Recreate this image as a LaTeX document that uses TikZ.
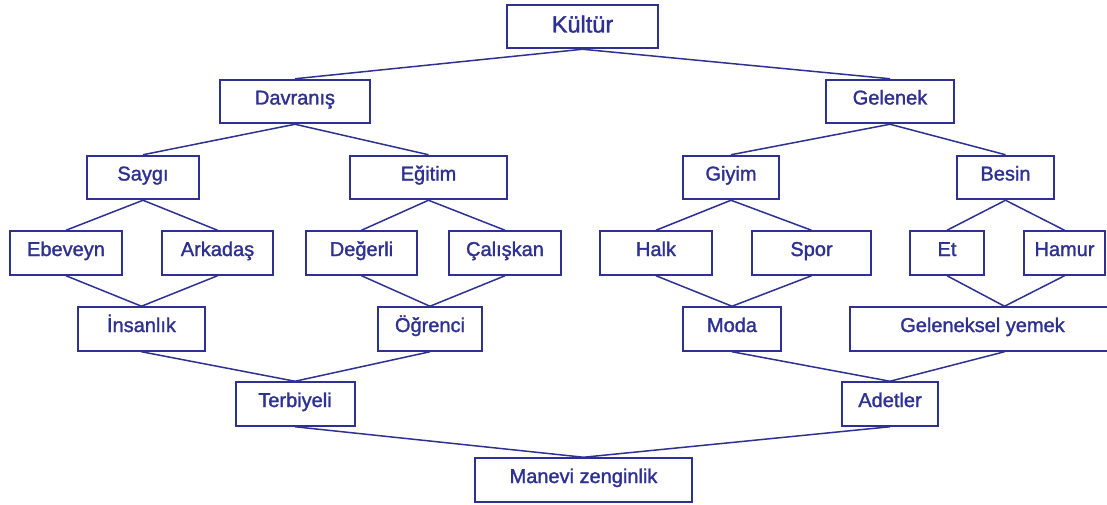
\documentclass[tikz,border=0pt]{standalone}
\usepackage{fontspec}
\setmainfont{Liberation Sans}
\newfontfamily\heavyfont{Liberation Sans}[FakeBold=1.5]
\usetikzlibrary{calc}
\definecolor{navy}{HTML}{2E3192}
\tikzset{
  bx/.style={draw=navy, line width=2pt, rectangle, inner sep=0pt,
    minimum height=43.5pt, text=navy, font=\heavyfont\fontsize{20pt}{22pt}\selectfont,
    text height=14pt, text depth=8pt},
  big/.style={font=\heavyfont\fontsize{23.5pt}{26pt}\selectfont, text height=17pt, text depth=5pt},
  ln/.style={draw=navy, line width=1.5pt},
}
\begin{document}
\begin{tikzpicture}[x=1pt,y=-1pt]
\clip (0,0) rectangle (1107,505);
\fill[white] (0,0) rectangle (1107,505);
% row 0
\node[bx,big,minimum width=151pt] (ku) at (582.5,26.5) {Kültür};
% row 1
\node[bx,minimum width=150pt] (da) at (295,101.5) {Davranış};
\node[bx,minimum width=127.5pt] (ge) at (890,101.5) {Gelenek};
% row 2
\node[bx,minimum width=112pt] (sa) at (143,177.5) {Saygı};
\node[bx,minimum width=157pt] (eg) at (428.5,177.5) {Eğitim};
\node[bx,minimum width=96pt] (gi) at (731,177.5) {Giyim};
\node[bx,minimum width=97pt] (be) at (1005.5,177.5) {Besin};
% row 3
\node[bx,minimum width=112pt] (eb) at (66,253) {Ebeveyn};
\node[bx,minimum width=111pt] (ar) at (217.5,253) {Arkadaş};
\node[bx,minimum width=111pt] (de) at (361.5,253) {Değerli};
\node[bx,minimum width=112pt] (ca) at (505,253) {Çalışkan};
\node[bx,minimum width=112pt] (ha) at (656,253) {Halk};
\node[bx,minimum width=119pt] (sp) at (811.5,253) {Spor};
\node[bx,minimum width=74pt] (et) at (947,253) {Et};
\node[bx,minimum width=81pt] (hm) at (1064.5,253) {Hamur};
% row 4
\node[bx,minimum width=127pt] (in) at (141.5,329) {İnsanlık};
\node[bx,minimum width=104pt] (og) at (430,329) {Öğrenci};
\node[bx,minimum width=98pt] (mo) at (732,329) {Moda};
\node[bx,minimum width=265pt] (gy) at (982.5,329) {Geleneksel yemek};
\coordinate (gyt) at ($(gy.north)+(22,0)$);
\coordinate (gyb) at ($(gy.south)+(22,0)$);
% row 5
\node[bx,minimum width=119pt] (te) at (295,404) {Terbiyeli};
\node[bx,minimum width=96.5pt] (ad) at (890,404) {Adetler};
% row 6
\node[bx,minimum width=217pt] (ma) at (583.5,480) {Manevi zenginlik};
% connectors
\draw[ln] (ku.south) -- (da.north);
\draw[ln] (ku.south) -- (ge.north);
\draw[ln] (da.south) -- (sa.north);
\draw[ln] (da.south) -- (eg.north);
\draw[ln] (ge.south) -- (gi.north);
\draw[ln] (ge.south) -- (be.north);
\draw[ln] (sa.south) -- (eb.north);
\draw[ln] (sa.south) -- (ar.north);
\draw[ln] (eg.south) -- (de.north);
\draw[ln] (eg.south) -- (ca.north);
\draw[ln] (gi.south) -- (ha.north);
\draw[ln] (gi.south) -- (sp.north);
\draw[ln] (be.south) -- (et.north);
\draw[ln] (be.south) -- (hm.north);
\draw[ln] (eb.south) -- (in.north);
\draw[ln] (ar.south) -- (in.north);
\draw[ln] (de.south) -- (og.north);
\draw[ln] (ca.south) -- (og.north);
\draw[ln] (ha.south) -- (mo.north);
\draw[ln] (sp.south) -- (mo.north);
\draw[ln] (et.south) -- (gyt);
\draw[ln] (hm.south) -- (gyt);
\draw[ln] (in.south) -- (te.north);
\draw[ln] (og.south) -- (te.north);
\draw[ln] (mo.south) -- (ad.north);
\draw[ln] (gyb) -- (ad.north);
\draw[ln] (te.south) -- (ma.north);
\draw[ln] (ad.south) -- (ma.north);
\end{tikzpicture}
\end{document}
